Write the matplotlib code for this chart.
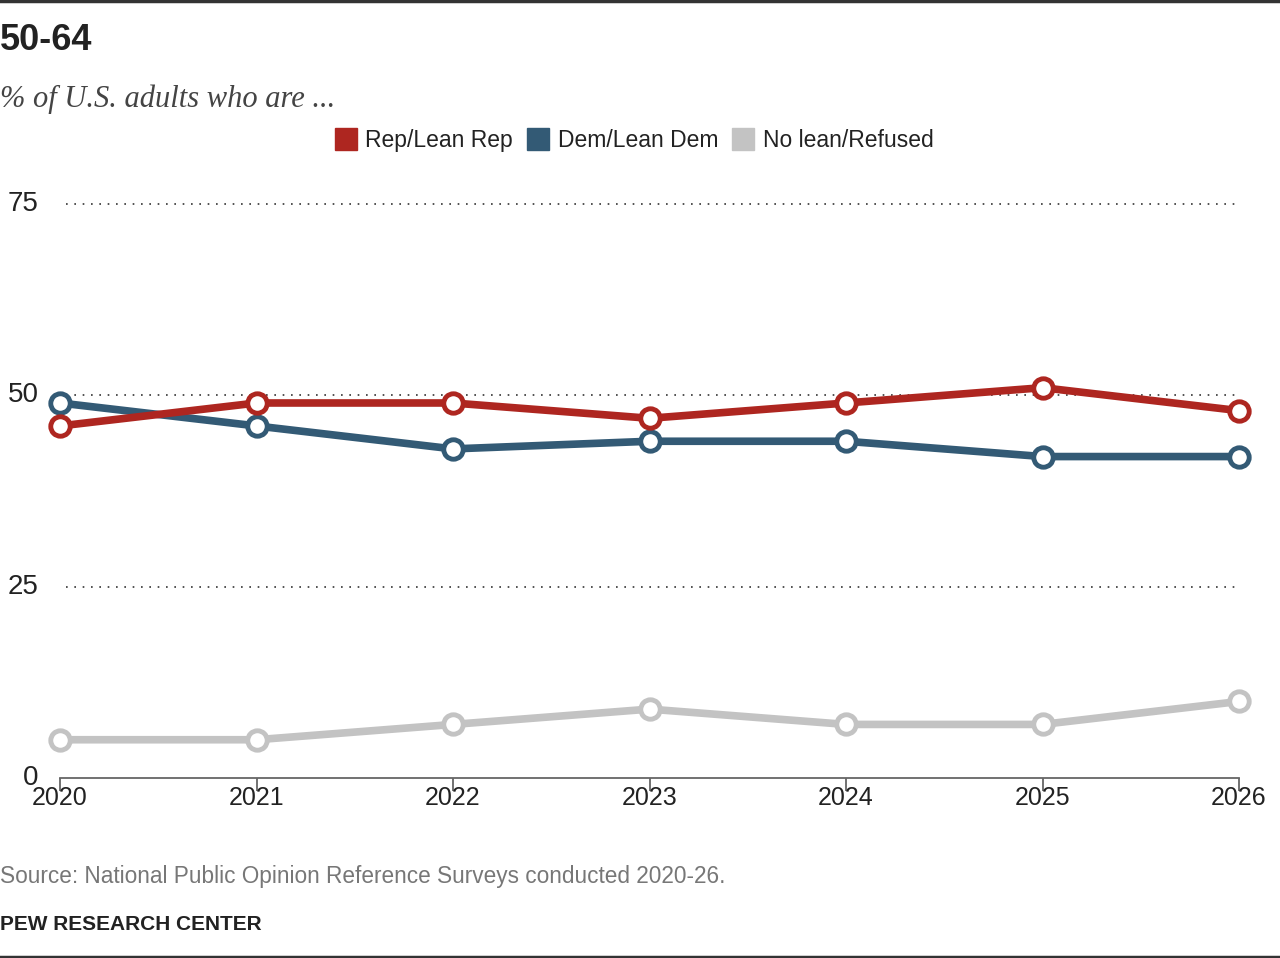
import matplotlib.pyplot as plt
from matplotlib.lines import Line2D

years = [2020, 2021, 2022, 2023, 2024, 2025, 2026]
rep = [46, 49, 49, 47, 49, 51, 48]
dem = [49, 46, 43, 44, 44, 42, 42]
nolean = [5, 5, 7, 9, 7, 7, 10]
yticks = [0, 25, 50, 75]

names = ["Rep/Lean Rep", "Dem/Lean Dem", "No lean/Refused"]
colors = ["#AE2620", "#335A75", "#C3C3C3"]

plt.rcParams['font.family'] = ['Liberation Sans', 'DejaVu Sans']

fig = plt.figure(figsize=(12.8, 9.58), dpi=100)
ax = fig.add_axes([60/1280, 180/958, 1179/1280, 574/958])
ax.set_xlim(2020, 2026)
ax.set_ylim(0, 75)

# dotted gridlines
for v in yticks[1:]:
    ax.plot([2020.03, 2026], [v, v], color="#333333", lw=1.2,
            linestyle=(0, (1, 4)), zorder=1, clip_on=False)

for vals, c in [(nolean, colors[2]), (dem, colors[1]), (rep, colors[0])]:
    ax.plot(years, vals, color=c, lw=5.5, marker='o', markersize=14,
            markerfacecolor='white', markeredgecolor=c, markeredgewidth=3.5,
            clip_on=False, zorder=3)

for s in ['top', 'right', 'left']:
    ax.spines[s].set_visible(False)
ax.spines['bottom'].set_color('#666666')
ax.spines['bottom'].set_linewidth(1.3)
ax.set_yticks([])
ax.set_xticks(years)
ax.set_xticklabels([str(y) for y in years], fontsize=18, color='#222222')
ax.tick_params(axis='x', length=9, width=1.3, color='#666666', pad=-3)

for v in yticks:
    ax.text(-0.018, v, str(v), transform=ax.get_yaxis_transform(),
            ha='right', va='center', fontsize=20, color='#222222')

# legend
handles = [Line2D([], [], marker='s', linestyle='none', markersize=16.5,
                  markerfacecolor=c, markeredgecolor=c) for c in colors]
fig.legend(handles, names, loc='center', bbox_to_anchor=(634/1280, 1 - 141/958),
           ncol=3, frameon=False, fontsize=16.5, handlelength=1.0,
           handletextpad=0.35, columnspacing=0.6, labelcolor='#222222',
           borderpad=0)

fig.text(0, 1 - 40/958, "50-64", fontsize=26, fontweight='bold',
         color='#222222', va='center', ha='left')
fig.text(0, 1 - 99/958, "% of U.S. adults who are ...", fontsize=22,
         style='italic', family='Liberation Serif', color='#444444',
         va='center', ha='left')
fig.text(0, 1 - 876/958, "Source: National Public Opinion Reference Surveys conducted 2020-26.",
         fontsize=16.3, color='#777777', va='center', ha='left')
fig.text(0, 1 - 924/958, "PEW RESEARCH CENTER", fontsize=15, fontweight='bold',
         color='#222222', va='center', ha='left')

# top and bottom rules
fig.add_artist(Line2D([0, 1], [1 - 1/958, 1 - 1/958], color='#333333', lw=2.5,
                      transform=fig.transFigure))
fig.add_artist(Line2D([0, 1], [1/958, 1/958], color='#333333', lw=2.5,
                      transform=fig.transFigure))

fig.savefig("out.png", dpi=100)
